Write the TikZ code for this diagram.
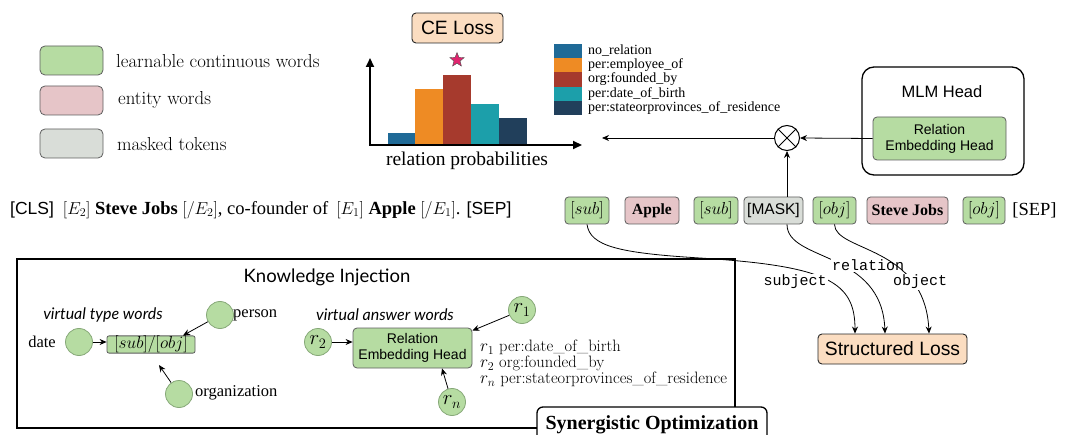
\documentclass[tikz,border=0pt]{standalone}
\usepackage{fontspec}
\newfontfamily\tnr{Liberation Serif}
\newfontfamily\ars{Liberation Sans}
\newfontfamily\cour{Liberation Mono}
\newfontfamily\hand{Lato}
\usetikzlibrary{arrows.meta,shapes.geometric,calc}

\definecolor{tgreen}{HTML}{B6DCA2}
\definecolor{tpink}{HTML}{E6C5C8}
\definecolor{tgray}{HTML}{D9DDD8}
\definecolor{tpeach}{HTML}{FBDDC1}
\definecolor{boxline}{HTML}{5E5E5E}
\definecolor{barA}{HTML}{1F6A97}
\definecolor{barB}{HTML}{EE8B24}
\definecolor{barC}{HTML}{A63A2D}
\definecolor{barD}{HTML}{1C9FAA}
\definecolor{barE}{HTML}{213F5B}
\definecolor{starc}{HTML}{E0246E}
\definecolor{circline}{HTML}{86A878}

\newcommand{\fsz}[1]{\fontsize{#1}{#1}\selectfont}
\newcommand{\fszl}[2]{\fontsize{#1}{#2}\selectfont}

\tikzset{
  legbox/.style={draw=boxline, line width=0.8pt, rounded corners=5pt,
    minimum width=63pt, minimum height=29pt, inner sep=0pt},
  legtext/.style={anchor=west, font=\fsz{18.8}, inner sep=0pt},
  tok/.style={draw=boxline, line width=0.8pt, rounded corners=3.5pt,
    minimum height=27pt, inner sep=0pt, font=\tnr\fsz{15.5}},
  mtok/.style={tok, fill=tgreen, font=\fsz{17.5}},
  grn/.style={fill=tgreen},
  pnk/.style={fill=tpink},
  gry/.style={fill=tgray},
  arr/.style={-{Stealth[length=7pt,width=6pt]}, line width=0.8pt},
  axisline/.style={line width=2pt, -{Triangle[length=9pt,width=8pt]}},
  lossbox/.style={draw=black!85, fill=tpeach, rounded corners=4pt,
    line width=0.9pt, font=\ars\fsz{19.3}, inner sep=0pt},
  vcirc/.style={circle, draw=circline, fill=tgreen, line width=0.8pt,
    minimum size=27pt, inner sep=0pt, font=\fsz{20}},
  headbox/.style={draw=boxline, fill=tgreen, line width=0.8pt,
    rounded corners=4pt, inner sep=0pt, align=center,
    font=\ars\fszl{14}{16}},
  edgelabel/.style={fill=white, inner sep=1pt, font=\cour\fsz{15}},
  wordlabel/.style={font=\tnr\fsz{16.5}, inner sep=0pt},
}

\begin{document}
\begin{tikzpicture}[x=1pt, y=-1pt]
\useasboundingbox (0,0) rectangle (1091,435);

% ---------- legend of token kinds ----------
\node[legbox, grn] (lg1) at (71.5,60.5) {};
\node[legbox, pnk] (lg2) at (71.5,100.5) {};
\node[legbox, gry] (lg3) at (71.5,143.5) {};
\node[legtext] (lt1) at (116,61) {learnable continuous words};
\node[legtext] (lt2) at (118,100) {entity words};
\node[legtext] (lt3) at (117,144) {masked tokens};

% ---------- CE loss and relation distribution ----------
\node[lossbox, minimum width=91pt, minimum height=30pt] (ce) at (457.5,28) {CE Loss};

\fill[barA] (388,145) rectangle (415,133);
\fill[barB] (415,145) rectangle (443,89);
\fill[barC] (443,145) rectangle (471,75);
\fill[barD] (471,145) rectangle (499,104);
\fill[barE] (499,145) rectangle (527,118);
\draw[axisline] (370,146) -- (370,58);
\draw[axisline] (369,145) -- (582,145);
\node[star, star points=5, star point ratio=2.3, fill=starc, draw=black!70,
  line width=0.4pt, minimum size=15pt, inner sep=0pt] (best) at (457,60) {};
\node[font=\tnr\fsz{19.5}, inner sep=0pt] (probs) at (467,161) {relation probabilities};

% bar colour key
\foreach \c/\t [count=\i] in {barA/no\_relation, barB/per:employee\_of,
    barC/org:founded\_by, barD/per:date\_of\_birth,
    barE/per:stateorprovinces\_of\_residence}{
  \fill[\c] (554,{44+14.2*(\i-1)}) rectangle (582,{44+14.2*\i});
  \node[anchor=west, inner sep=0pt, font=\tnr\fsz{14}] (key\i) at (588,{51+14.2*(\i-1)}) {\t};
}

% ---------- MLM head ----------
\node[draw, line width=1.3pt, rounded corners=12pt, minimum width=162pt,
  minimum height=108pt] (mlm) at (943,121) {};
\node[font=\ars\fsz{16.5}, inner sep=0pt] (mlmt) at (942,92) {MLM Head};
\node[headbox, minimum width=133pt, minimum height=43pt] (reh) at (939.5,138.5)
  {Relation\\Embedding Head};

\node[circle, draw, line width=1pt, minimum size=25pt, inner sep=0pt] (ot) at (787,138) {};
\draw[line width=1pt] (ot.north west) -- (ot.south east) (ot.north east) -- (ot.south west);
\coordinate (chartin) at (602,138);
\draw[arr] (reh.west) -- (ot.east);
\draw[arr] (ot.west) -- (chartin);

% ---------- input sentence ----------
\node[anchor=west, inner sep=0pt, font=\tnr\fsz{18.5}] (sent) at (10,210)
  {{\ars\fsz{17.5}[CLS]}\hspace{9pt}$[E_2]$ \textbf{Steve Jobs} $[/E_2]$, co-founder of\hspace{8pt}$[E_1]$ \textbf{Apple} $[/E_1]$. {\ars\fsz{17.5}[SEP]}};

% ---------- prompt tokens ----------
\node[mtok, minimum width=44pt] (sub1) at (587,210.5) {$[sub]$};
\node[tok, pnk, minimum width=54pt] (apple) at (652,210.5) {\textbf{Apple}};
\node[mtok, minimum width=44pt] (sub2) at (716,210.5) {$[sub]$};
\node[tok, gry, minimum width=59pt, font=\ars\fsz{15.5}] (mask) at (773.5,210.5) {[MASK]};
\node[mtok, minimum width=43pt] (obj1) at (834.5,210.5) {$[obj]$};
\node[tok, pnk, minimum width=81pt, font=\tnr\fsz{16}] (steve) at (907.5,210.5) {\textbf{Steve Jobs}};
\node[mtok, minimum width=42pt] (obj2) at (984,210.5) {$[obj]$};
\node[font=\tnr\fsz{18.5}, inner sep=0pt] (sep) at (1034.5,210.5) {[SEP]};

\draw[arr] (mask.north -| ot) -- (ot.south);

% ---------- structured loss ----------
\node[lossbox, minimum width=149pt, minimum height=30pt] (sl) at (892.5,349) {Structured Loss};

\draw[arr] (sub1.south) .. controls (590,246) and (618,253) .. (700,258)
  .. controls (828,266) and (855,282) .. ([xshift=-37.5pt]sl.north);
\draw[arr] (mask.south -| ot) .. controls (787,262) and (882,250) .. ([xshift=-7.5pt]sl.north);
\node[edgelabel] (lrel) at (868,265) {relation};
\draw[arr] (obj1.south) .. controls (835,252) and (925,245) .. ([xshift=36.5pt]sl.north);
\node[edgelabel] (lobj) at (920,282) {object};
\node[edgelabel] (lsub) at (795,282) {subject};

% ---------- knowledge injection ----------
\node[draw, line width=1.3pt, minimum width=718pt, minimum height=169pt, inner sep=0pt]
  (ki) at (376,343.5) {};
\node[font=\hand\fsz{18.5}, inner sep=0pt] (kit) at (327,277) {Knowledge Injection};
\node[font=\hand\itshape\fsz{16}, inner sep=0pt] (vtw) at (103,315) {virtual type words};
\node[font=\hand\itshape\fsz{16}, inner sep=0pt] (vaw) at (385,315) {virtual answer words};

% type words
\node[draw=boxline, fill=tgreen, line width=0.8pt, rounded corners=2pt,
  minimum width=88pt, minimum height=17pt, inner sep=0pt, font=\fsz{17.5}]
  (tb) at (151,344.5) {$[sub]/[obj]$};
\node[vcirc] (cdate) at (79,342) {};
\node[vcirc] (cpers) at (220,315) {};
\node[vcirc] (corg) at (179,394) {};
\node[wordlabel, anchor=east] (ldate) at (56,342) {date};
\node[wordlabel, anchor=west] (lpers) at (233,315) {person};
\node[wordlabel, anchor=west] (lorg) at (195,393) {organization};
\draw[arr] (cdate) -- (tb.west |- cdate);
\draw[arr] (cpers) -- ([xshift=32pt]tb.north);
\draw[arr, shorten >=14pt] (corg) -- (tb.south);

% answer words
\node[headbox, minimum width=119pt, minimum height=40pt] (reh2) at (412.5,348)
  {Relation\\Embedding Head};
\node[vcirc] (r2) at (318,342) {$r_2$};
\node[vcirc] (r1) at (522,310) {$r_1$};
\node[vcirc] (rn) at (452,402) {$r_n$};
\draw[arr] (r2) -- (r2 -| reh2.west);
\draw[arr] (r1) -- ([yshift=-3pt]reh2.north east);
\draw[arr] (rn) -- ([xshift=29.5pt]reh2.south);
\node[anchor=west, inner sep=0pt, align=left, font=\fszl{16.5}{14.5}]
  (rkey) at (480,363.5)
  {$r_1$ per:date\_of\_birth\\ $r_2$ org:founded\_by\\ $r_n$ per:stateorprovinces\_of\_residence};

% ---------- synergistic optimization ----------
\node[draw, fill=white, line width=1.3pt, rounded corners=6pt, minimum width=230pt,
  minimum height=36pt, inner sep=0pt, font=\tnr\bfseries\fsz{20}] (syn) at (652,425)
  {Synergistic Optimization};
\end{tikzpicture}
\end{document}
